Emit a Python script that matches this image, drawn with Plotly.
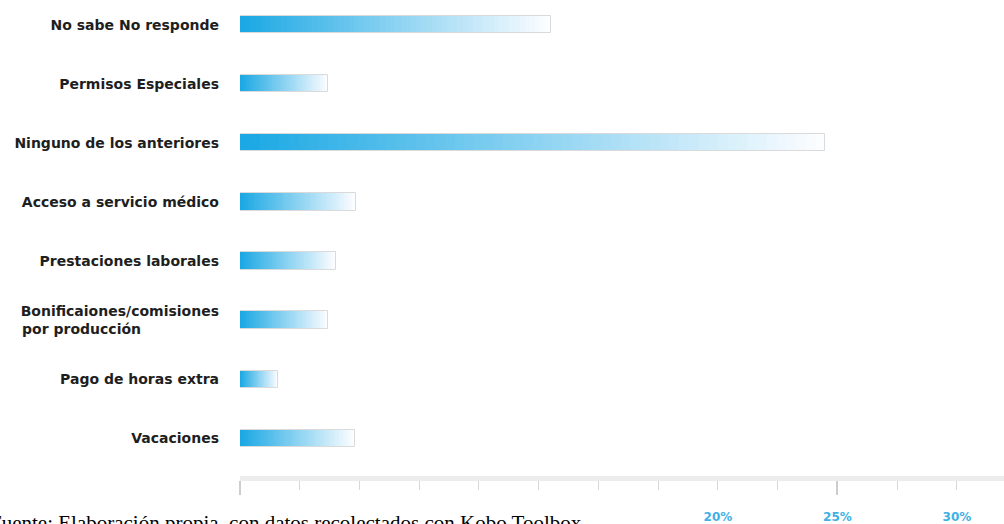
import plotly.graph_objects as go

categories = [
    "No sabe No responde",
    "Permisos Especiales",
    "Ninguno de los anteriores",
    "Acceso a servicio médico",
    "Prestaciones laborales",
    "Bonificaiones/comisiones por producción",
    "Pago de horas extra",
    "Vacaciones",
]
category_labels = [
    "No sabe No responde",
    "Permisos Especiales",
    "Ninguno de los anteriores",
    "Acceso a servicio médico",
    "Prestaciones laborales",
    "Bonificaiones/comisiones<br>por producción" + "\u00a0" * 16,
    "Pago de horas extra",
    "Vacaciones",
]
values = [13.0, 3.7, 24.5, 4.85, 4.0, 3.7, 1.6, 4.8]

tick_values = [0, 2.5, 5, 7.5, 10, 12.5, 15, 17.5, 20, 22.5, 25, 27.5, 30]
tick_labels = ["", "", "", "", "", "", "", "", "20%", "", "25%", "", "30%"]
major_ticks = [0, 25]
source_note = "Fuente: Elaboración propia, con datos recolectados con Kobo Toolbox"

N = 60
c0 = (27, 168, 228)
c1 = (252, 253, 255)

fig = go.Figure()
for i in range(N):
    t = i / (N - 1)
    col = "rgb(%d,%d,%d)" % tuple(round(a + (b - a) * t) for a, b in zip(c0, c1))
    bases = [v * i / N for v in values]
    widths = [v - b for v, b in zip(values, bases)]
    fig.add_trace(go.Bar(
        y=categories, x=widths, base=bases, orientation="h",
        marker=dict(color=col, line=dict(width=0)),
        width=0.29, hoverinfo="skip", showlegend=False,
    ))
fig.add_trace(go.Bar(
    y=categories, x=values, base=[0] * len(values), orientation="h",
    marker=dict(color="rgba(0,0,0,0)", line=dict(color="rgb(218,218,218)", width=1)),
    width=0.29, hoverinfo="skip", showlegend=False, xaxis="x2",
))

fig.update_layout(
    width=1004, height=524,
    margin=dict(l=240, r=0, t=0, b=46),
    paper_bgcolor="white", plot_bgcolor="white",
    barmode="overlay", bargap=0,
    xaxis=dict(
        range=[0, 31.97], showgrid=False, zeroline=False,
        showline=True, linecolor="rgb(236,236,236)", linewidth=5,
        tickmode="array", tickvals=tick_values, ticktext=tick_labels,
        ticks="outside", ticklen=9, tickwidth=1, tickcolor="rgb(215,215,215)",
        ticklabelstandoff=17,
        tickfont=dict(family="DejaVu Sans", size=12, color="rgb(64,176,230)", weight="bold"),
    ),
    xaxis2=dict(
        matches="x", overlaying="x", anchor="y", side="bottom",
        showgrid=False, zeroline=False,
        showline=True, linecolor="rgb(236,236,236)", linewidth=5,
        tickmode="array", tickvals=major_ticks, ticks="outside", ticklen=14,
        tickwidth=1.5, tickcolor="rgb(205,205,205)", showticklabels=False,
    ),
    yaxis=dict(
        type="category", categoryorder="array", categoryarray=categories[::-1],
        range=[-0.641, 7.42], showgrid=False, zeroline=False, showline=False,
        tickmode="array", tickvals=categories, ticktext=category_labels,
        ticks="", ticklabelstandoff=20,
        tickfont=dict(family="DejaVu Sans", size=14, color="rgb(30,30,30)", weight="bold"),
    ),
    annotations=[dict(
        text=source_note, xref="paper", yref="paper",
        x=-0.33, y=-0.070, xanchor="left", yanchor="top", showarrow=False,
        font=dict(family="Liberation Serif", size=21, color="black"),
    )],
)

fig.write_html(
    "out.html",
    config={"displayModeBar": False},
    post_script="document.body.style.margin='0';document.body.style.overflow='hidden';",
)
